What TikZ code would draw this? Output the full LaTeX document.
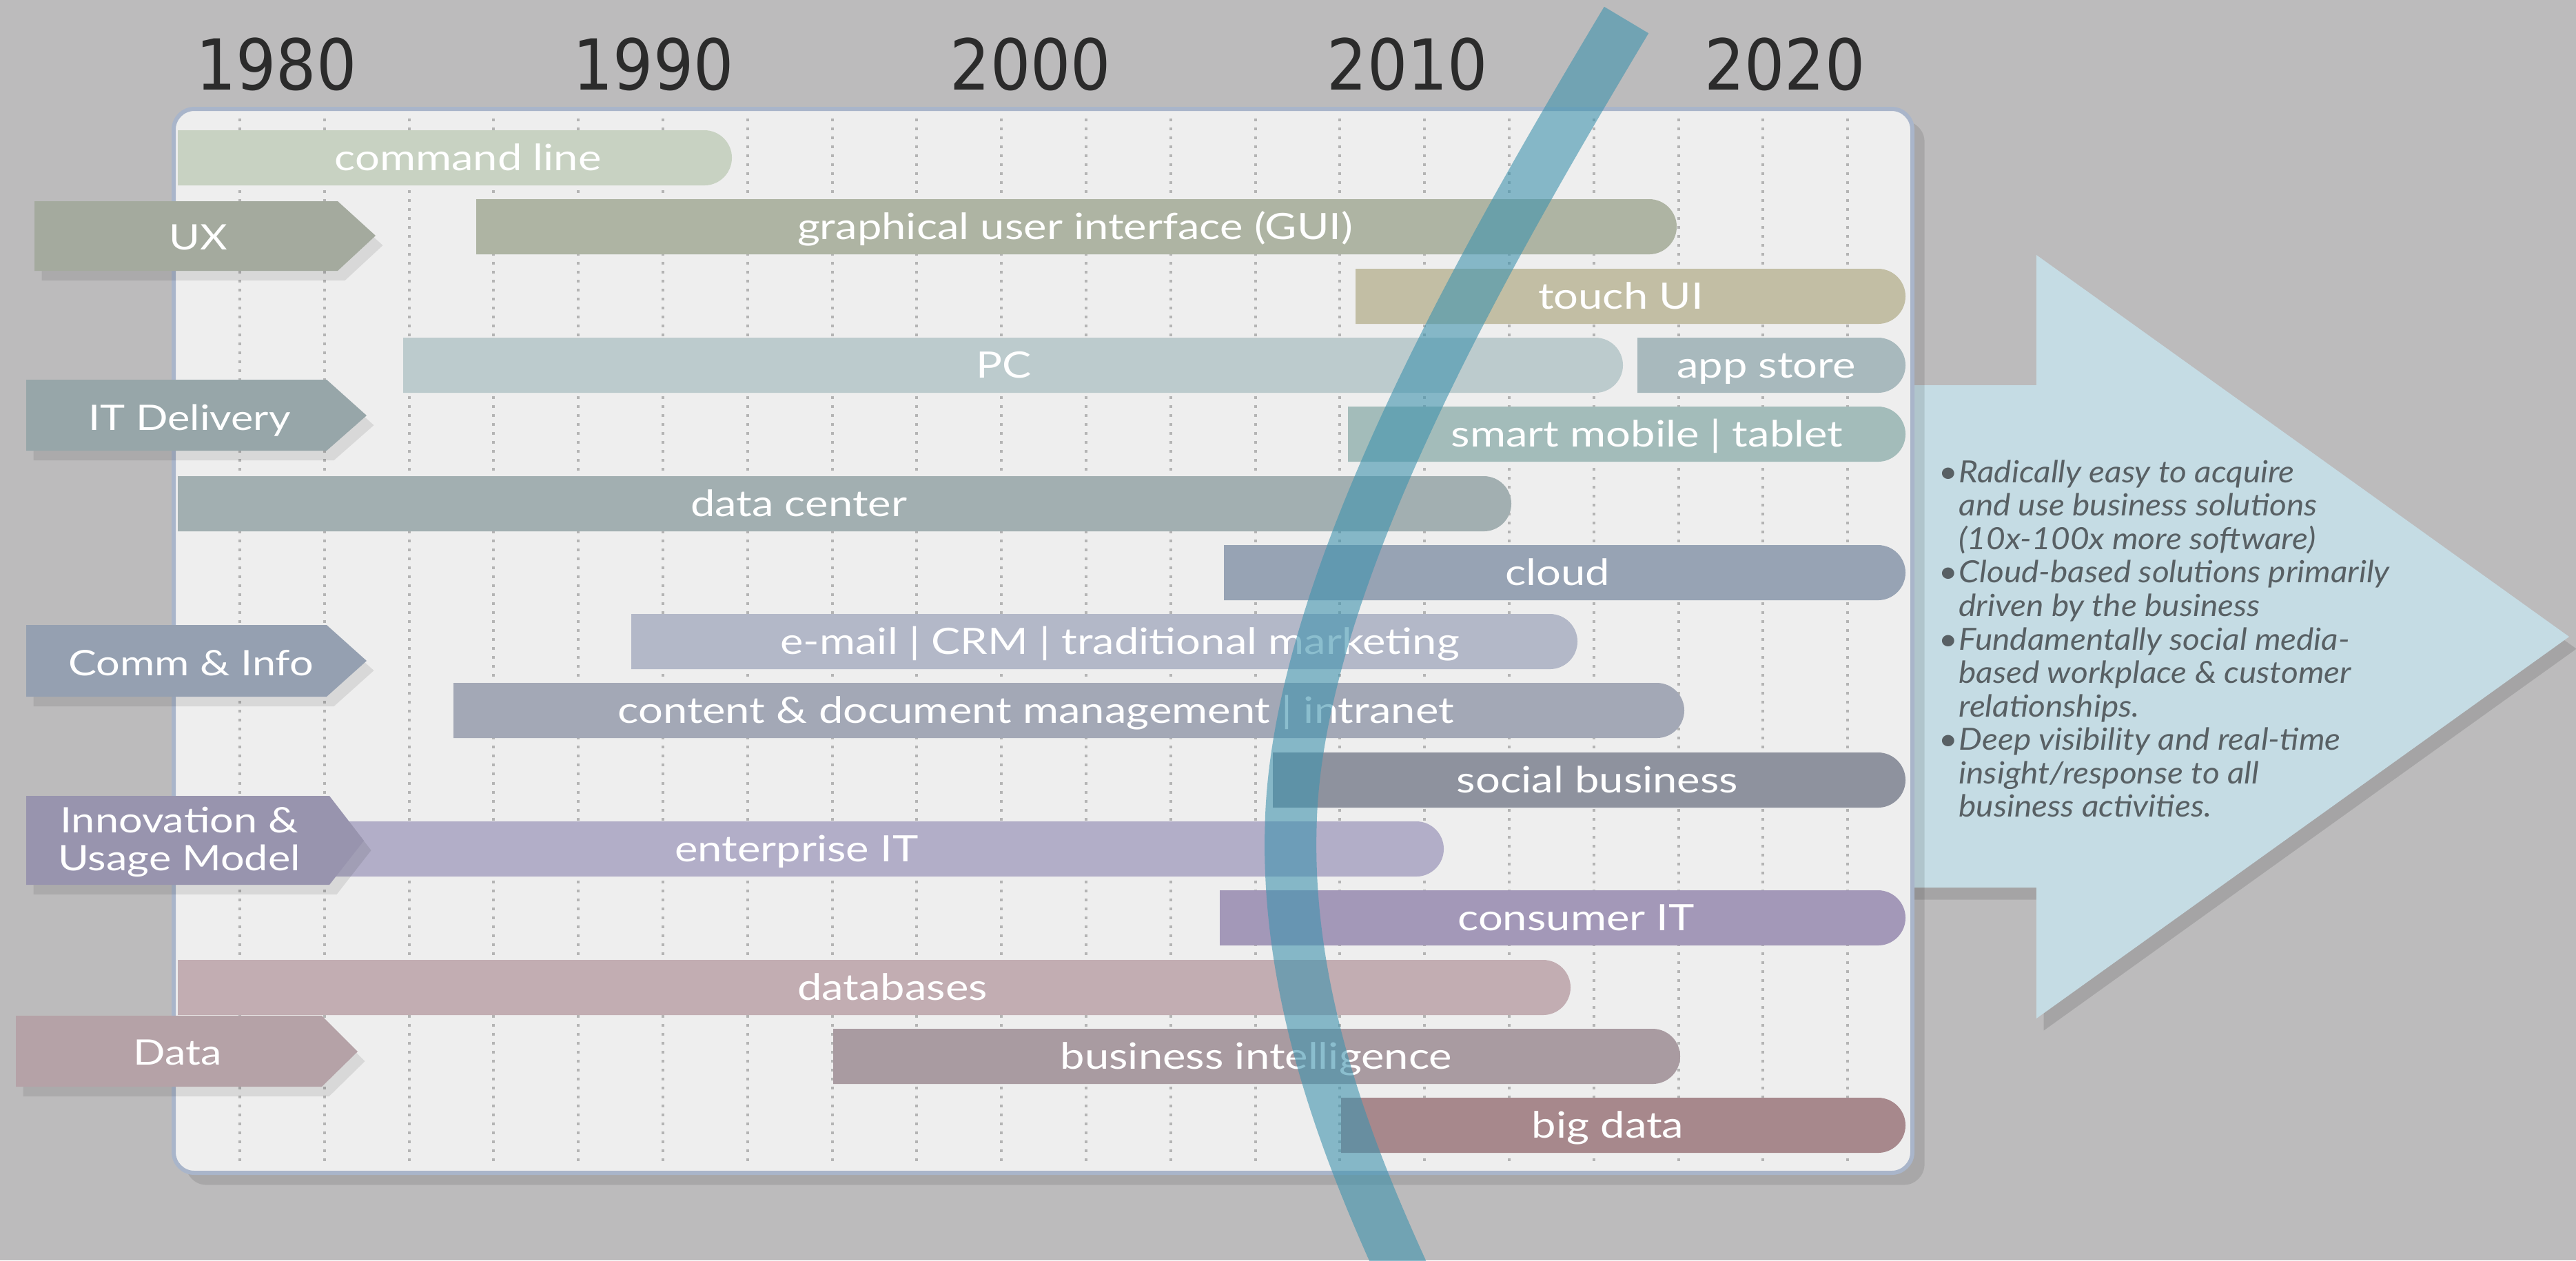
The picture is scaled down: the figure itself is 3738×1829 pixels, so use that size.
\documentclass[tikz,border=0pt]{standalone}
\usepackage{fontspec}
\setmainfont{Lato}
\newfontfamily\yearfont{DejaVu Sans Condensed}
\newfontfamily\tagfont[FakeStretch=1.2]{Lato}
\newfontfamily\notefont[FakeStretch=1.08]{Lato}
\usetikzlibrary{shadows}
\definecolor{bgcol}{HTML}{BCBBBC}
\definecolor{panelcol}{HTML}{EEEEEE}
\definecolor{panelline}{HTML}{A9B5CA}
\definecolor{gridcol}{HTML}{B4B4B4}
\definecolor{arrowcol}{HTML}{C5DCE4}
\definecolor{bandcol}{HTML}{3F93AE}
\definecolor{yearcol}{HTML}{2B2B2B}
\definecolor{notecol}{HTML}{586064}
% bar colours
\definecolor{cmdcol}{HTML}{C8D2C2}
\definecolor{guicol}{HTML}{AEB4A3}
\definecolor{touchcol}{HTML}{C2BEA4}
\definecolor{pccol}{HTML}{BCCBCD}
\definecolor{appcol}{HTML}{A8B9BD}
\definecolor{mobilecol}{HTML}{A3BCBA}
\definecolor{dccol}{HTML}{A2AFB1}
\definecolor{cloudcol}{HTML}{97A3B4}
\definecolor{mailcol}{HTML}{B3B8C8}
\definecolor{contentcol}{HTML}{A3A8B6}
\definecolor{socialcol}{HTML}{8E929E}
\definecolor{entcol}{HTML}{B2AEC8}
\definecolor{conscol}{HTML}{A398B8}
\definecolor{dbcol}{HTML}{C2ADB2}
\definecolor{bicol}{HTML}{A99BA1}
\definecolor{bigcol}{HTML}{A7888C}
% label colours
\definecolor{uxcol}{HTML}{A4AA9E}
\definecolor{itcol}{HTML}{97A6A9}
\definecolor{commcol}{HTML}{95A0B1}
\definecolor{innocol}{HTML}{9894AE}
\definecolor{datacol}{HTML}{B5A2A7}
\begin{document}
\begin{tikzpicture}[x=0.01cm, y=-0.01cm,
  bartext/.style={text=white, font=\tagfont\fontsize{15}{17}\selectfont, inner sep=0pt, text height=10.6pt, text depth=0pt},
  labeltext/.style={text=white, font=\tagfont\fontsize{14.5}{15.4}\selectfont, inner sep=0pt, align=center},
  yeartext/.style={text=yearcol, font=\yearfont\fontsize{29}{31}\selectfont, inner sep=0pt, text height=20.8pt, text depth=0pt},
  tagshadow/.style={drop shadow={shadow xshift=3pt, shadow yshift=-4pt, opacity=0.09, fill=black}}]
\fill[bgcol] (0,0) rectangle (3738,1829);
\useasboundingbox (0,0) rectangle (3738,1829);

% years
\foreach \yr [count=\i from 0] in {1980,1990,2000,2010,2020}
  \node[yeartext] (y\yr) at ({401+547.2*\i},94) {\yr};

% big arrow
\fill[arrowcol, drop shadow={shadow xshift=3pt, shadow yshift=-5pt, opacity=0.12, fill=black}]
  (2700,559) -- (2955,559) -- (2955,370) -- (3728,924) -- (2955,1478) -- (2955,1288) -- (2700,1288) -- cycle;
\node[text=notecol, font=\notefont\fontsize{12.6}{13.8}\selectfont\itshape, align=left, inner sep=0pt, anchor=north west] (notes) at (2813,667)
  {\makebox[8.2pt][l]{\textbullet}Radically easy to acquire\\
   \hspace*{8.2pt}and use business solutions\\
   \hspace*{8.2pt}(10x-100x more software)\\
   \makebox[8.2pt][l]{\textbullet}Cloud-based solutions primarily\\
   \hspace*{8.2pt}driven by the business\\
   \makebox[8.2pt][l]{\textbullet}Fundamentally social media-\\
   \hspace*{8.2pt}based workplace \& customer\\
   \hspace*{8.2pt}relationships.\\
   \makebox[8.2pt][l]{\textbullet}Deep visibility and real-time\\
   \hspace*{8.2pt}insight/response to all\\
   \hspace*{8.2pt}business activities.};

% panel
\filldraw[fill=panelcol, draw=panelline, line width=0.06cm, rounded corners=0.3cm,
  drop shadow={shadow xshift=5pt, shadow yshift=-5pt, opacity=0.1, fill=black}]
  (252,158) rectangle (2775,1702);
\foreach \k in {0,...,19}
  \draw[gridcol, line width=0.04cm, dash pattern=on 0.04cm off 0.09cm] ({348+122.8*\k},172) -- ({348+122.8*\k},1690);

% bars
\foreach \n/\yc/\xa/\xb/\xt/\col/\txt in {
  cmd/229/258/1062/679/cmdcol/command line,
  gui/329/691/2433/1560/guicol/graphical user interface (GUI),
  touch/430/1967/2765/2352/touchcol/touch UI,
  pc/530/585/2355/1457/pccol/PC,
  app/530/2376/2765/2563/appcol/app store,
  mobile/630/1956/2765/2390/mobilecol/smart mobile | tablet,
  dc/731/258/2193/1159/dccol/data center,
  cloud/831/1776/2765/2260/cloudcol/cloud,
  mail/931/916/2289/1625/mailcol/e-mail | CRM | traditional marketing,
  content/1031/658/2444/1503/contentcol/content \& document management | intranet,
  social/1132/1847/2765/2318/socialcol/social business,
  ent/1232/470/2095/1156/entcol/enterprise IT,
  cons/1332/1770/2765/2287/conscol/consumer IT,
  db/1433/258/2279/1295/dbcol/databases,
  bi/1533/1209/2438/1823/bicol/business intelligence,
  big/1633/1946/2765/2333/bigcol/big data}
{
  \fill[\col] (\xa,\yc-40) -- (\xb-40,\yc-40) arc[start angle=90, end angle=-90, radius=0.4cm] -- (\xa,\yc+40) -- cycle;
  \node[bartext] (\n) at (\xt,\yc) {\txt};
}

% curved band
\draw[bandcol, opacity=0.6, line width=0.75cm] (2360,29) .. controls (2150,380) and (1880,850) .. (1873,1200)
  .. controls (1866,1450) and (1960,1680) .. (2035,1845);

% category tags
\fill[uxcol, tagshadow] (50,292) -- (490,292) -- (545,342) -- (490,393) -- (50,393) -- cycle;
\node[labeltext] (ux) at (288,344) {UX};
\fill[itcol, tagshadow] (38,551) -- (474,551) -- (532,603) -- (474,654) -- (38,654) -- cycle;
\node[labeltext] (it) at (275,610) {IT Delivery};
\fill[commcol, tagshadow] (38,907) -- (474,907) -- (532,959) -- (474,1011) -- (38,1011) -- cycle;
\node[labeltext] (comm) at (277,962) {Comm \& Info};
\fill[innocol, tagshadow] (38,1155) -- (478,1155) -- (528,1220) -- (478,1284) -- (38,1284) -- cycle;
\node[labeltext] (inno) at (260,1222) {Innovation \&\\Usage Model};
\fill[datacol, tagshadow] (23,1474) -- (467,1474) -- (519,1526) -- (467,1577) -- (23,1577) -- cycle;
\node[labeltext] (data) at (258,1527) {Data};
\end{tikzpicture}
\end{document}
